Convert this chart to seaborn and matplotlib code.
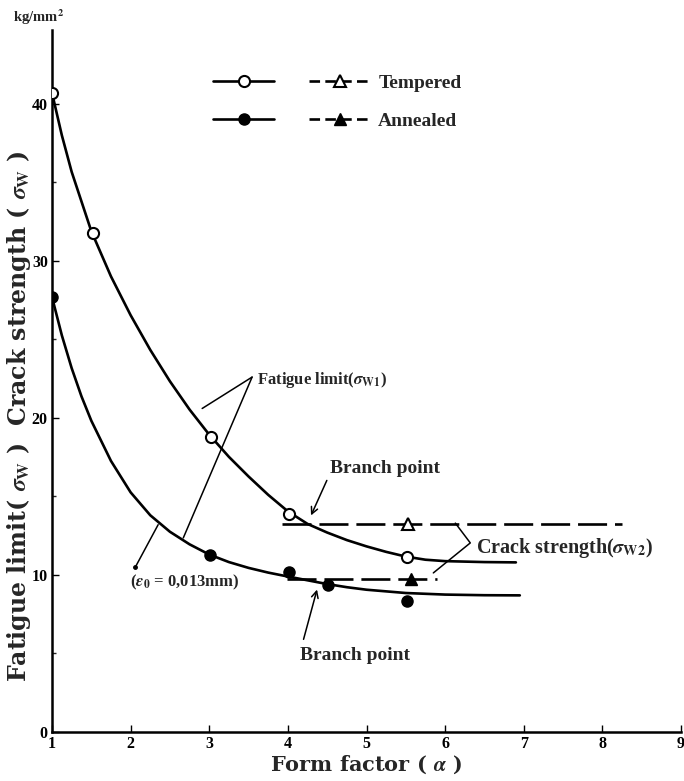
import numpy as np
import pandas as pd
import seaborn as sns
import matplotlib
matplotlib.use("Agg")
import matplotlib.pyplot as plt
from matplotlib.legend_handler import HandlerTuple
from matplotlib.lines import Line2D

# ---------------- data ----------------
# measured points
temp_x = [1.0, 1.52, 3.02, 4.02, 5.52]
temp_y = [40.7, 31.8, 18.8, 13.9, 11.15]
ann_x = [1.0, 3.01, 4.02, 4.51, 5.52]
ann_y = [27.7, 11.3, 10.2, 9.36, 8.35]
# fitted fatigue-limit curves
temp_curve_x = [1.0, 1.125, 1.25, 1.5, 1.75, 2.0, 2.25, 2.5, 2.75, 3.0, 3.25, 3.5, 3.75,
                4.0, 4.25, 4.5, 4.75, 5.0, 5.25, 5.5, 5.75, 6.0, 6.5, 6.9]
temp_curve_y = [40.7, 38.0, 35.67, 31.89, 29.01, 26.54, 24.33, 22.33, 20.53, 18.93, 17.52, 16.27, 15.1,
                14.05, 13.25, 12.7, 12.22, 11.82, 11.47, 11.17, 10.97, 10.88, 10.82, 10.8]
ann_curve_x = [1.0, 1.125, 1.25, 1.375, 1.5, 1.75, 2.0, 2.25, 2.5, 2.75, 3.0, 3.25, 3.5, 3.75,
               4.0, 4.25, 4.5, 4.75, 5.0, 5.5, 6.0, 6.5, 6.95]
ann_curve_y = [27.7, 25.26, 23.17, 21.37, 19.82, 17.26, 15.26, 13.8, 12.75, 11.95, 11.3, 10.82, 10.45, 10.15,
               9.9, 9.66, 9.42, 9.22, 9.06, 8.85, 8.75, 8.71, 8.7]
# crack strength (dashed) lines and triangle points
temp_crack_x = [3.93, 8.25]
temp_crack_y = [13.25, 13.25]
ann_crack_x = [3.99, 5.9]
ann_crack_y = [9.75, 9.75]
tri_temp_x, tri_temp_y = [5.53], [13.25]
tri_ann_x, tri_ann_y = [5.57], [9.75]

x_ticks = [1, 2, 3, 4, 5, 6, 7, 8, 9]
y_ticks = [0, 10, 20, 30, 40]
y_minor = [5, 15, 25, 35]

# ---------------- style ----------------
sns.set_theme(style="white")
plt.rcParams['font.family'] = ['Liberation Serif', 'DejaVu Serif']
plt.rcParams['mathtext.fontset'] = 'stix'
plt.rcParams['font.weight'] = 'bold'

fig = plt.figure(figsize=(6.84, 7.81), dpi=100)
ax = fig.add_axes([52/684, 49/781, 629/684, 702/781])

lw = 1.9
k = 'black'

# curves
sns.lineplot(x=temp_curve_x, y=temp_curve_y, ax=ax, color=k, lw=lw, sort=False, estimator=None)
sns.lineplot(x=ann_curve_x, y=ann_curve_y, ax=ax, color=k, lw=lw, sort=False, estimator=None)
# dashed crack strength lines
ax.plot(temp_crack_x, temp_crack_y, color=k, lw=lw, dashes=(11, 3))
ax.plot(ann_crack_x, ann_crack_y, color=k, lw=lw, dashes=(11, 3))

# markers
ax.plot(temp_x, temp_y, 'o', ms=8, mfc='white', mec=k, mew=1.5, zorder=5)
ax.plot(ann_x, ann_y, 'o', ms=8, mfc=k, mec=k, zorder=5)
ax.plot(tri_temp_x, tri_temp_y, '^', ms=8, mfc='white', mec=k, mew=1.5, zorder=5)
ax.plot(tri_ann_x, tri_ann_y, '^', ms=8, mfc=k, mec=k, zorder=5)

# axes
ax.set_xlim(1, 9)
ax.set_ylim(0, 44.7)
ax.set_xticks(x_ticks)
ax.set_xticklabels([str(v) for v in x_ticks])
ax.set_yticks(y_ticks)
ax.set_yticklabels([str(v) for v in y_ticks])
ax.set_yticks(y_minor, minor=True)
ax.tick_params(axis='both', which='major', direction='in', length=5, width=1, labelsize=11.5, pad=3, colors=k)
ax.tick_params(axis='y', which='minor', direction='in', length=3, width=1, left=True)
ax.tick_params(axis='x', which='major', bottom=True)
ax.tick_params(axis='y', which='major', left=True)
for s in ['top', 'right']:
    ax.spines[s].set_visible(False)
for s in ['left', 'bottom']:
    ax.spines[s].set_color(k)
    ax.spines[s].set_linewidth(1.8)
for lab in ax.get_xticklabels() + ax.get_yticklabels():
    lab.set_fontweight('bold')

ax.set_xlabel(r'Form factor ( $\alpha$ )', fontsize=15, fontweight='bold', labelpad=1,
              family='DejaVu Serif')
ax.set_ylabel(r'Fatigue limit( $\sigma_{\mathrm{W}}$ )  Crack strength ( $\sigma_{\mathrm{W}}$ )',
              fontsize=17, fontweight='bold', family='DejaVu Serif')
ax.yaxis.set_label_coords(-0.030, 0.45)
ax.text(-0.022, 1.004, 'kg/mm$^2$', transform=ax.transAxes, ha='center', va='bottom',
        fontsize=10.5, fontweight='bold')

# annotations
ax.text(3.61, 22.4, r'Fatigue limit($\sigma_{\mathrm{W1}}$)', fontsize=12, fontweight='bold', va='center')
ax.plot([3.545, 2.91], [22.6, 20.6], color=k, lw=1.1)
ax.plot([3.545, 2.67], [22.6, 12.36], color=k, lw=1.1)

ax.text(4.54, 16.8, 'Branch point', fontsize=14, fontweight='bold', va='center')
ax.annotate('', xy=(4.28, 13.63), xytext=(4.51, 16.18),
            arrowprops=dict(arrowstyle='->', color=k, lw=1.1))
ax.text(4.16, 4.9, 'Branch point', fontsize=14, fontweight='bold', va='center')
ax.annotate('', xy=(4.38, 9.24), xytext=(4.19, 5.73),
            arrowprops=dict(arrowstyle='->', color=k, lw=1.1))

ax.text(6.39, 11.7, r'Crack strength($\sigma_{\mathrm{W2}}$)', fontsize=14.5, fontweight='bold', va='center')
ax.plot([6.13, 6.32, 5.85], [13.3, 12.04, 10.13], color=k, lw=1.1)

ax.plot([2.35, 2.06], [13.2, 10.5], color=k, lw=1.1)
ax.plot([2.06], [10.5], 'o', ms=2.5, color=k)
ax.text(1.99, 9.5, r'($\varepsilon_0$ = 0,013mm)', fontsize=12, fontweight='bold', va='center')

# legend
h1 = Line2D([], [], color=k, lw=lw, marker='o', ms=8, mfc='white', mec=k, mew=1.5)
h2 = Line2D([], [], color=k, lw=lw, dashes=(4, 2), marker='^', ms=8, mfc='white', mec=k, mew=1.5)
h3 = Line2D([], [], color=k, lw=lw, marker='o', ms=8, mfc=k, mec=k)
h4 = Line2D([], [], color=k, lw=lw, dashes=(4, 2), marker='^', ms=8, mfc=k, mec=k)
leg = ax.legend([(h1, h2), (h3, h4)], ['Tempered', 'Annealed'],
                handler_map={tuple: HandlerTuple(ndivide=None, pad=1.8)},
                loc='upper left', bbox_to_anchor=(0.256, 0.937), frameon=False,
                handlelength=8.1, handletextpad=0.4, labelspacing=1.05,
                borderpad=0, borderaxespad=0, numpoints=1,
                prop=dict(family='Liberation Serif', weight='bold', size=14))

fig.savefig('out.png', dpi=100)
